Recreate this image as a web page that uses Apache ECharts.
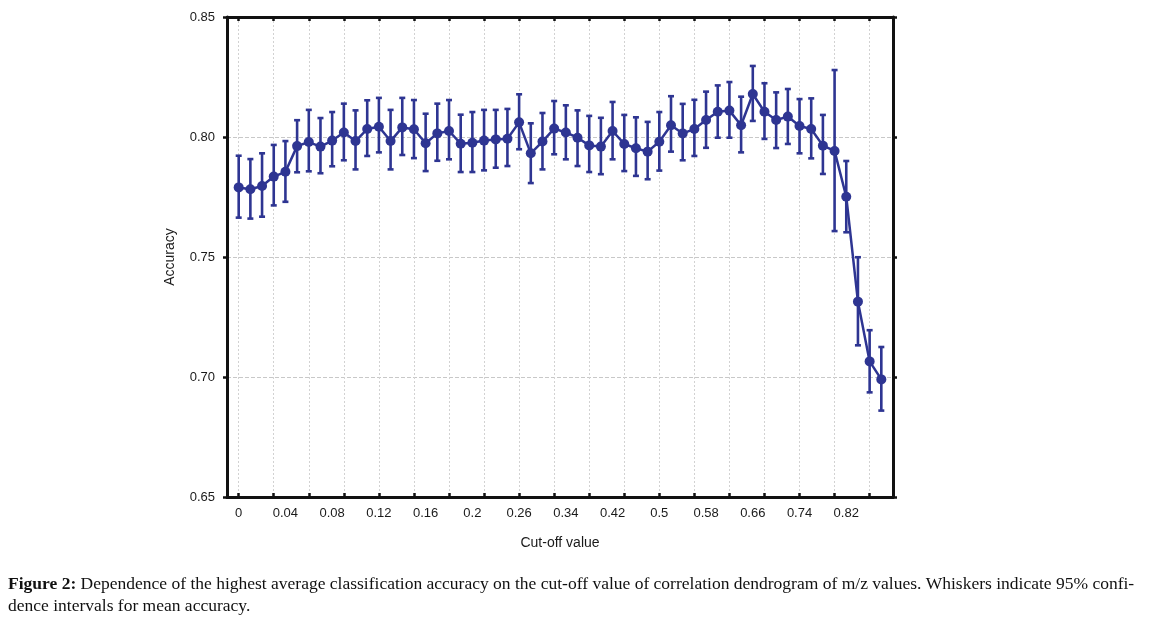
<!DOCTYPE html>
<html>
<head>
<meta charset="utf-8">
<script src="https://cdn.jsdelivr.net/npm/echarts@6/dist/echarts.min.js"></script>
<style>
html,body{margin:0;padding:0;background:#fff;}
#chart{width:1159px;height:621px;}
</style>
</head>
<body>
<div id="chart"></div>
<script>
// Cut-off values (categories)
const cutoffs = [0,0.01,0.02,0.03,0.04,0.05,0.06,0.07,0.08,0.09,0.1,0.11,0.12,0.13,0.14,0.15,0.16,0.17,0.18,0.19,0.2,0.21,0.22,0.24,0.26,0.28,0.3,0.32,0.34,0.36,0.38,0.4,0.42,0.44,0.46,0.48,0.5,0.52,0.54,0.56,0.58,0.6,0.62,0.64,0.66,0.68,0.7,0.72,0.74,0.76,0.78,0.8,0.82,0.84,0.86,0.88];
// Mean accuracy
const meanAcc = [0.7790,0.7782,0.7796,0.7835,0.7855,0.7962,0.7979,0.7960,0.7985,0.8019,0.7983,0.8033,0.8043,0.7983,0.8040,0.8032,0.7974,0.8015,0.8025,0.7972,0.7976,0.7985,0.7990,0.7993,0.8061,0.7932,0.7981,0.8035,0.8019,0.7997,0.7965,0.7960,0.8025,0.7971,0.7953,0.7939,0.7980,0.8049,0.8015,0.8033,0.8071,0.8105,0.8110,0.8049,0.8179,0.8105,0.8071,0.8085,0.8046,0.8033,0.7964,0.7942,0.7751,0.7314,0.7065,0.6990];
// Upper 95% CI
const upperCI = [0.7922,0.7908,0.7932,0.7967,0.7983,0.8070,0.8113,0.8079,0.8104,0.8139,0.8111,0.8153,0.8163,0.8113,0.8163,0.8154,0.8097,0.8139,0.8154,0.8093,0.8104,0.8113,0.8113,0.8117,0.8178,0.8057,0.8100,0.8150,0.8132,0.8111,0.8088,0.8080,0.8146,0.8092,0.8082,0.8063,0.8104,0.8170,0.8138,0.8155,0.8189,0.8215,0.8229,0.8168,0.8296,0.8224,0.8186,0.8200,0.8158,0.8161,0.8092,0.8279,0.7900,0.7499,0.7195,0.7125];
// Lower 95% CI
const lowerCI = [0.7664,0.7660,0.7668,0.7715,0.7730,0.7853,0.7857,0.7849,0.7878,0.7903,0.7865,0.7921,0.7936,0.7865,0.7925,0.7912,0.7858,0.7901,0.7907,0.7854,0.7854,0.7861,0.7872,0.7879,0.7949,0.7808,0.7865,0.7928,0.7907,0.7879,0.7854,0.7845,0.7907,0.7858,0.7838,0.7824,0.7860,0.7939,0.7903,0.7921,0.7955,0.7997,0.7997,0.7936,0.8067,0.7992,0.7954,0.7971,0.7932,0.7911,0.7846,0.7608,0.7603,0.7132,0.6936,0.6860];
// Y axis range
const yMin = 0.65, yMax = 0.85, yStep = 0.05;

const blue = '#2e3592';
const textColor = '#1a1a1a';
const fontFam = '"Liberation Sans", Arial, sans-serif';
const serif = '"Liberation Serif", "Times New Roman", serif';

// padded categories (one empty slot at each end)
const cats = [''].concat(cutoffs.map(String)).concat(['']);
const n = cutoffs.length;
const isTick = (i) => i >= 1 && i <= n && (i - 1) % 3 === 0;
const isLabel = (i) => i >= 1 && i <= n && (i - 1) % 4 === 0;

const lineData = meanAcc.map((v, i) => [i + 1, v]);
const errData = meanAcc.map((v, i) => [i + 1, lowerCI[i], upperCI[i]]);

const chart = echarts.init(document.getElementById('chart'), null, {renderer: 'canvas'});
chart.setOption({
  animation: false,
  backgroundColor: '#ffffff',
  grid: {left: 227, right: 266, top: 17, bottom: 124, containLabel: false},
  xAxis: [{
    type: 'category',
    data: cats,
    boundaryGap: false,
    position: 'bottom',
    name: 'Cut-off value',
    nameLocation: 'middle',
    nameGap: 39,
    nameTextStyle: {color: textColor, fontSize: 14, fontFamily: fontFam},
    axisLine: {show: true, lineStyle: {color: '#111', width: 3}},
    axisTick: {show: true, inside: true, length: 4, interval: (i) => isTick(i), lineStyle: {color: '#111', width: 2.5}},
    axisLabel: {show: true, interval: (i) => isLabel(i), margin: 10, color: textColor, fontSize: 13, fontFamily: fontFam},
    splitLine: {show: true, interval: (i) => isTick(i), lineStyle: {color: '#d2d2d2', width: 1, type: [2, 2]}}
  }, {
    type: 'category',
    data: cats,
    boundaryGap: false,
    position: 'top',
    axisLine: {show: true, lineStyle: {color: '#111', width: 3}},
    axisTick: {show: true, inside: true, length: 4, interval: (i) => isTick(i), lineStyle: {color: '#111', width: 2.5}},
    axisLabel: {show: false},
    splitLine: {show: false}
  }],
  yAxis: [{
    type: 'value',
    min: yMin, max: yMax, interval: yStep,
    position: 'left',
    name: 'Accuracy',
    nameLocation: 'middle',
    nameGap: 50,
    nameTextStyle: {color: textColor, fontSize: 14, fontFamily: fontFam},
    axisLine: {show: true, lineStyle: {color: '#111', width: 3}},
    axisTick: {show: true, inside: false, length: 4, lineStyle: {color: '#111', width: 2.5}},
    axisLabel: {margin: 12, color: textColor, fontSize: 13, fontFamily: fontFam, formatter: (v) => v.toFixed(2)},
    splitLine: {show: true, lineStyle: {color: '#c8c8c8', width: 1, type: [4, 2]}}
  }, {
    type: 'value',
    min: yMin, max: yMax, interval: yStep,
    position: 'right',
    axisLine: {show: true, lineStyle: {color: '#111', width: 3}},
    axisTick: {show: true, inside: false, length: 4, lineStyle: {color: '#111', width: 2.5}},
    axisLabel: {show: false},
    splitLine: {show: false}
  }],
  series: [{
    type: 'custom',
    xAxisIndex: 0, yAxisIndex: 0,
    data: errData,
    encode: {x: 0, y: [1, 2]},
    z: 3,
    renderItem: function (params, api) {
      const x = api.value(0);
      const lo = api.coord([x, api.value(1)]);
      const hi = api.coord([x, api.value(2)]);
      const hw = 3;
      const st = {stroke: blue, lineWidth: 2.6};
      return {
        type: 'group',
        children: [
          {type: 'line', shape: {x1: hi[0], y1: hi[1], x2: lo[0], y2: lo[1]}, style: st},
          {type: 'line', shape: {x1: hi[0] - hw, y1: hi[1], x2: hi[0] + hw, y2: hi[1]}, style: st},
          {type: 'line', shape: {x1: lo[0] - hw, y1: lo[1], x2: lo[0] + hw, y2: lo[1]}, style: st}
        ]
      };
    }
  }, {
    type: 'line',
    xAxisIndex: 0, yAxisIndex: 0,
    data: lineData,
    z: 4,
    symbol: 'circle',
    symbolSize: 10,
    showAllSymbol: true,
    lineStyle: {color: blue, width: 2.5},
    itemStyle: {color: blue},
    emphasis: {disabled: true}
  }],
  graphic: [{
    type: 'text',
    left: 8,
    top: 573,
    style: {
      text: '{b|Figure 2:} Dependence of the highest average classification accuracy on the cut-off value of correlation dendrogram of m/z values. Whiskers indicate 95% confi-\ndence intervals for mean accuracy.',
      fontFamily: serif,
      fontSize: 17.5,
      lineHeight: 22,
      fill: '#111',
      rich: {b: {fontWeight: 'bold', fontFamily: serif, fontSize: 17.5, fill: '#111', lineHeight: 22}}
    }
  }]
});
</script>
</body>
</html>
